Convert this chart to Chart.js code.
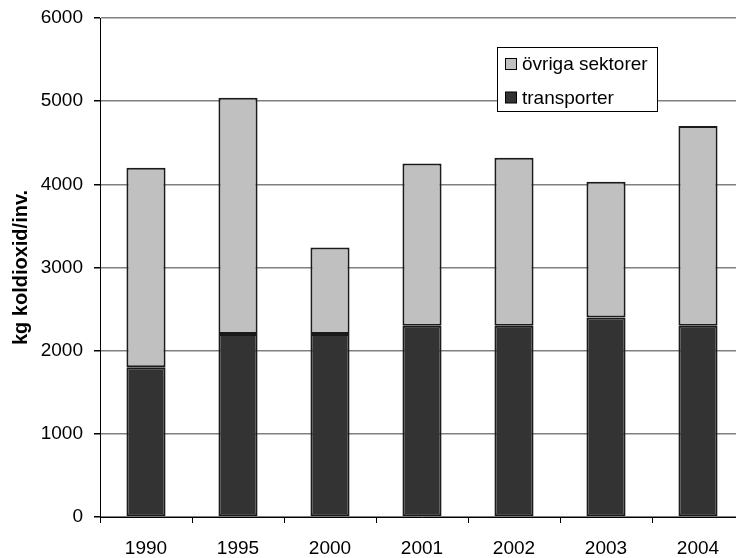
<!DOCTYPE html>
<html>
<head>
<meta charset="utf-8">
<script src="https://cdn.jsdelivr.net/npm/chart.js@4/dist/chart.umd.min.js"></script>
<style>
  html, body { margin: 0; padding: 0; background: #fff; overflow: hidden; }
  #wrap { width: 745px; height: 558px; position: relative; }
</style>
</head>
<body>
<div id="wrap"><canvas id="c"></canvas></div>
<script>
// Koldioxidutsläpp per invånare, uppdelat på sektor
const years = ['1990', '1995', '2000', '2001', '2002', '2003', '2004'];
const transporter = [1800, 2200, 2200, 2300, 2300, 2400, 2300];
const ovrigaSektorer = [2400, 2840, 1040, 1950, 2020, 1630, 2400];
const yTicks = [0, 1000, 2000, 3000, 4000, 5000, 6000];

const FONT = "'Liberation Sans', Arial, sans-serif";

// Legend drawn as a framed box inside the plot area
const boxLegend = {
  id: 'boxLegend',
  afterDraw(chart) {
    const ctx = chart.ctx;
    const a = chart.chartArea;
    const x = a.left + 397, y = a.top + 29, w = 160, h = 64;
    ctx.save();
    ctx.fillStyle = '#fff';
    ctx.fillRect(x, y, w, h);
    ctx.strokeStyle = '#000';
    ctx.lineWidth = 1;
    ctx.strokeRect(x + 0.5, y + 0.5, w, h);
    const items = chart.data.datasets.slice().reverse();
    ctx.font = '19px ' + FONT;
    ctx.textBaseline = 'middle';
    items.forEach((ds, i) => {
      const cy = y + 17 + i * 33.5;
      ctx.fillStyle = ds.backgroundColor;
      ctx.fillRect(x + 8.5, cy - 5.5, 11, 11);
      ctx.strokeStyle = '#000';
      ctx.strokeRect(x + 8.5, cy - 5.5, 11, 11);
      ctx.fillStyle = '#000';
      ctx.fillText(ds.label, x + 25, cy + 1);
    });
    ctx.restore();
  }
};

new Chart(document.getElementById('c'), {
  type: 'bar',
  data: {
    labels: years,
    datasets: [
      {
        label: 'transporter',
        data: transporter,
        backgroundColor: '#333333',
        borderColor: '#1a1a1a',
        borderWidth: 2,
        borderSkipped: false,
        barPercentage: 0.425,
        categoryPercentage: 1
      },
      {
        label: 'övriga sektorer',
        data: ovrigaSektorer,
        backgroundColor: '#c0c0c0',
        borderColor: '#1a1a1a',
        borderWidth: 2,
        borderSkipped: false,
        barPercentage: 0.425,
        categoryPercentage: 1
      }
    ]
  },
  options: {
    responsive: true,
    maintainAspectRatio: false,
    devicePixelRatio: 1,
    animation: false,
    layout: { padding: { top: 18, right: 1, left: 0, bottom: 0 } },
    plugins: {
      legend: { display: false },
      tooltip: { enabled: false }
    },
    scales: {
      x: {
        stacked: true,
        grid: {
          offset: true,
          drawOnChartArea: false,
          drawTicks: true,
          tickLength: 6,
          tickColor: '#000',
          lineWidth: 1
        },
        border: { display: true, color: '#000', width: 1 },
        ticks: {
          color: '#000',
          font: { family: FONT, size: 19 },
          padding: 14,
          maxRotation: 0
        },
        afterFit(scale) {
          scale.height = 41;
          scale.paddingLeft = 0;
          scale.paddingRight = 0;
        }
      },
      y: {
        stacked: true,
        min: 0,
        max: 6000,
        afterBuildTicks(scale) { scale.ticks = yTicks.map(v => ({ value: v })); },
        grid: {
          color: '#808080',
          lineWidth: 1.5,
          drawTicks: true,
          tickLength: 6,
          tickColor: '#000'
        },
        border: { display: true, color: '#000', width: 1 },
        ticks: {
          color: '#000',
          font: { family: FONT, size: 19 },
          padding: 11,
          callback: v => String(v)
        },
        title: {
          display: true,
          text: 'kg koldioxid/inv.',
          color: '#000',
          font: { family: FONT, size: 20, weight: 'bold' },
          padding: { top: 9.5, bottom: 0 }
        },
        afterFit(scale) {
          scale.width = 100;
          scale.paddingTop = 0;
          scale.paddingBottom = 0;
        }
      }
    }
  },
  plugins: [boxLegend]
});
</script>
</body>
</html>
